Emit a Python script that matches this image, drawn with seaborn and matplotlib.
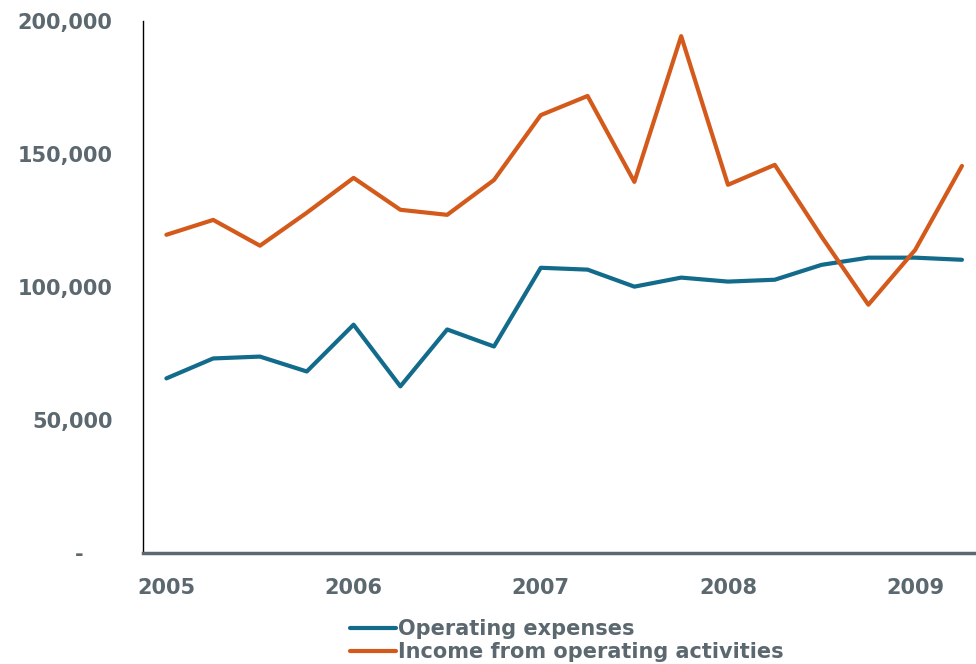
import matplotlib
matplotlib.use("Agg")
import matplotlib.pyplot as plt
import seaborn as sns
import pandas as pd
import numpy as np

# quarterly values, 2005 Q1 .. 2009 Q2
quarters = [f"{y}Q{q}" for y in range(2005, 2010) for q in range(1, 5)][:18]
operating_expenses = [65700, 73200, 73900, 68300, 85900, 62700, 84100, 77700, 107300,
                      106600, 100200, 103600, 102100, 102800, 108400, 111100, 111100, 110300]
operating_income = [119700, 125300, 115600, 128000, 141100, 129100, 127200, 140300, 164700,
                    171900, 139600, 194400, 138500, 146000, 119000, 93400, 114000, 145600]
year_labels = ["2005", "2006", "2007", "2008", "2009"]
y_ticks = [0, 50000, 100000, 150000, 200000]

series_names = ["Operating expenses", "Income from operating activities"]
colors = ["#136b8c", "#d45a1c"]
text_color = "#5b6870"


def main():
    n = len(quarters)
    df = pd.DataFrame({
        "idx": list(range(n)) * 2,
        "value": operating_expenses + operating_income,
        "series": [series_names[0]] * n + [series_names[1]] * n,
    })

    sns.set_style("white")
    plt.rcParams['font.family'] = ['DejaVu Sans']

    fig = plt.figure(figsize=(9.76, 6.64), dpi=100)
    ax = fig.add_axes([0.1465, 0.167, 0.8535, 0.801])

    sns.lineplot(data=df, x="idx", y="value", hue="series", palette=colors,
                 linewidth=3.0, ax=ax, legend=True)

    ax.set_xlim(-0.5, 17.3)
    ax.set_ylim(0, 200000)
    ax.set_xticks([0, 4, 8, 12, 16])
    ax.set_xticklabels(year_labels)
    ax.set_yticks(y_ticks)
    ax.set_yticklabels([f"{v:,}" if v else "-    " for v in y_ticks])
    ax.set_xlabel("")
    ax.set_ylabel("")
    ax.tick_params(axis='both', length=0, labelsize=15, labelcolor=text_color)
    ax.tick_params(axis='y', pad=22)
    ax.tick_params(axis='x', pad=18)
    for lbl in ax.get_xticklabels() + ax.get_yticklabels():
        lbl.set_fontweight('bold')

    for s in ['top', 'right']:
        ax.spines[s].set_visible(False)
    ax.spines['left'].set_color('k')
    ax.spines['left'].set_linewidth(1.0)
    ax.spines['bottom'].set_color(text_color)
    ax.spines['bottom'].set_linewidth(2.5)

    leg = ax.legend(loc='upper left', bbox_to_anchor=(350 / 976, 1 - 619 / 664),
                    bbox_transform=fig.transFigure, frameon=False,
                    prop={'size': 15, 'weight': 'bold'}, handlelength=2.2,
                    handletextpad=0.1, labelspacing=0.15, borderpad=0, borderaxespad=0)
    for t in leg.get_texts():
        t.set_color(text_color)
    for h in leg.get_lines():
        h.set_linewidth(3.0)

    fig.savefig("out.png", dpi=100)


if __name__ == '__main__':
    main()
